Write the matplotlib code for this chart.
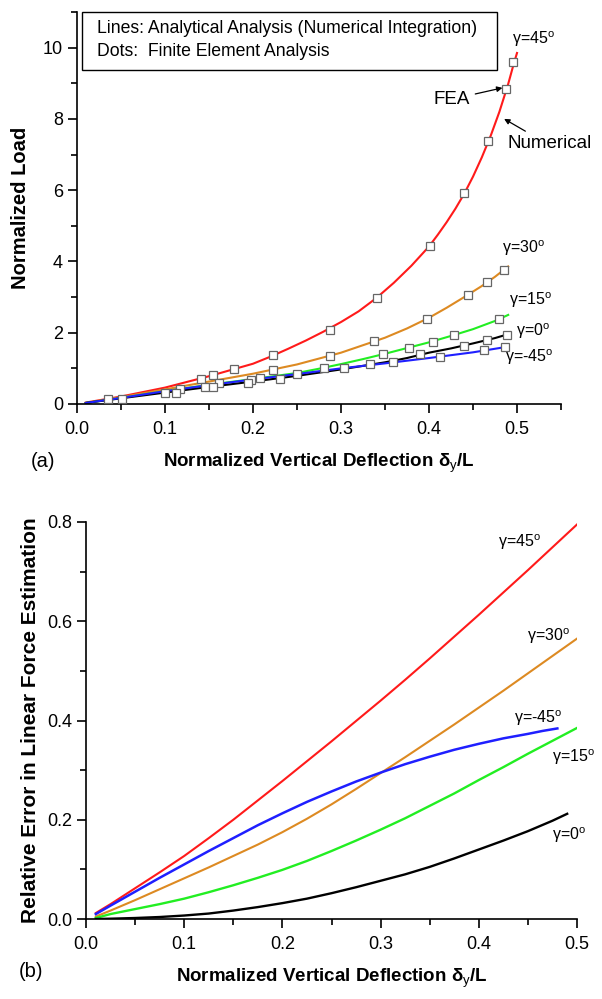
import matplotlib
matplotlib.use("Agg")
import matplotlib.pyplot as plt
from matplotlib.ticker import MultipleLocator
from matplotlib.patches import Rectangle

plt.rcParams['font.family'] = ['Liberation Sans', 'DejaVu Sans']
plt.rcParams['mathtext.fontset'] = 'custom'
plt.rcParams['mathtext.rm'] = 'Liberation Sans'
plt.rcParams['mathtext.it'] = 'Liberation Sans:italic'
plt.rcParams['mathtext.bf'] = 'Liberation Sans:bold'

# ---------------- Panel (a): normalized load (analytical lines) ----------------
x45 = [0.01, 0.05, 0.10, 0.15, 0.20, 0.22, 0.24, 0.26, 0.28, 0.30, 0.32, 0.34, 0.36, 0.38,
       0.40, 0.41, 0.42, 0.43, 0.44, 0.45, 0.46, 0.47, 0.48, 0.49, 0.496, 0.50]
y45 = [0.04, 0.21, 0.46, 0.78, 1.13, 1.33, 1.55, 1.78, 2.03, 2.30, 2.60, 2.97, 3.40, 3.88,
       4.42, 4.75, 5.10, 5.48, 5.90, 6.38, 6.92, 7.52, 8.20, 8.98, 9.52, 9.85]

x30 = [0.01, 0.05, 0.10, 0.15, 0.20, 0.25, 0.30, 0.35, 0.375, 0.40, 0.42, 0.44, 0.46, 0.475, 0.49]
y30 = [0.03, 0.19, 0.41, 0.63, 0.85, 1.11, 1.44, 1.86, 2.12, 2.42, 2.70, 3.00, 3.31, 3.57, 3.86]

x15 = [0.01, 0.05, 0.10, 0.15, 0.20, 0.25, 0.275, 0.30, 0.325, 0.35, 0.375, 0.40, 0.425, 0.45, 0.475, 0.49]
y15 = [0.03, 0.17, 0.36, 0.54, 0.70, 0.87, 0.99, 1.12, 1.26, 1.41, 1.57, 1.73, 1.91, 2.10, 2.33, 2.50]

x0 = [0.01, 0.05, 0.10, 0.15, 0.20, 0.25, 0.30, 0.35, 0.375, 0.40, 0.425, 0.45, 0.475, 0.49]
y0 = [0.03, 0.16, 0.32, 0.48, 0.63, 0.79, 0.97, 1.17, 1.29, 1.44, 1.56, 1.70, 1.85, 1.96]

xm45 = [0.01, 0.05, 0.10, 0.15, 0.20, 0.25, 0.30, 0.35, 0.40, 0.45, 0.485]
ym45 = [0.03, 0.17, 0.36, 0.53, 0.69, 0.84, 1.00, 1.14, 1.29, 1.45, 1.59]

# ---------------- Panel (a): FEA dots ----------------
fx45 = [0.141, 0.154, 0.178, 0.223, 0.287, 0.3406, 0.4007, 0.4395, 0.467, 0.488, 0.496]
fy45 = [0.71, 0.81, 0.98, 1.37, 2.08, 2.97, 4.42, 5.91, 7.38, 8.85, 9.59]
fx30 = [0.1617, 0.223, 0.287, 0.3375, 0.3975, 0.444, 0.466, 0.4857]
fy30 = [0.60, 0.95, 1.36, 1.76, 2.38, 3.06, 3.42, 3.77]
fx15 = [0.1166, 0.198, 0.250, 0.2806, 0.348, 0.377, 0.404, 0.428, 0.4799]
fy15 = [0.41, 0.67, 0.85, 1.02, 1.40, 1.58, 1.75, 1.94, 2.38]
fx0 = [0.0357, 0.0995, 0.145, 0.194, 0.231, 0.303, 0.390, 0.440, 0.4658, 0.4886]
fy0 = [0.13, 0.32, 0.47, 0.60, 0.70, 1.00, 1.39, 1.64, 1.79, 1.95]
fxm45 = [0.0516, 0.1128, 0.154, 0.2084, 0.333, 0.3595, 0.412, 0.4628, 0.4863]
fym45 = [0.14, 0.32, 0.47, 0.72, 1.11, 1.17, 1.33, 1.51, 1.59]

# ---------------- Panel (b): relative error ----------------
ex45 = [0.01, 0.025, 0.05, 0.075, 0.10, 0.125, 0.15, 0.175, 0.20, 0.225, 0.25, 0.275, 0.30,
        0.325, 0.35, 0.375, 0.40, 0.425, 0.45, 0.475, 0.50]
ey45 = [0.012, 0.030, 0.062, 0.094, 0.127, 0.163, 0.200, 0.239, 0.278, 0.318, 0.358, 0.399, 0.440,
        0.482, 0.525, 0.569, 0.613, 0.658, 0.703, 0.749, 0.795]
ex30 = [0.01, 0.025, 0.05, 0.075, 0.10, 0.125, 0.15, 0.175, 0.20, 0.225, 0.25, 0.275, 0.30,
        0.325, 0.35, 0.375, 0.40, 0.425, 0.45, 0.475, 0.50]
ey30 = [0.005, 0.017, 0.038, 0.060, 0.082, 0.104, 0.127, 0.150, 0.175, 0.202, 0.231, 0.262, 0.294,
        0.326, 0.359, 0.392, 0.426, 0.460, 0.495, 0.530, 0.565]
exm45 = [0.01, 0.025, 0.05, 0.075, 0.10, 0.125, 0.15, 0.175, 0.20, 0.225, 0.25, 0.275, 0.30,
         0.325, 0.35, 0.375, 0.40, 0.425, 0.45, 0.465, 0.48]
eym45 = [0.010, 0.027, 0.055, 0.083, 0.110, 0.137, 0.163, 0.189, 0.213, 0.236, 0.257, 0.277, 0.295,
         0.312, 0.327, 0.341, 0.353, 0.364, 0.373, 0.379, 0.384]
ex15 = [0.01, 0.025, 0.05, 0.075, 0.10, 0.125, 0.15, 0.175, 0.20, 0.225, 0.25, 0.275, 0.30,
        0.325, 0.35, 0.375, 0.40, 0.425, 0.45, 0.475, 0.50]
ey15 = [0.002, 0.010, 0.020, 0.030, 0.041, 0.054, 0.068, 0.083, 0.099, 0.117, 0.137, 0.158, 0.180,
        0.203, 0.228, 0.253, 0.280, 0.306, 0.333, 0.359, 0.385]
ex0 = [0.01, 0.025, 0.05, 0.075, 0.10, 0.125, 0.15, 0.175, 0.20, 0.225, 0.25, 0.275, 0.30,
       0.325, 0.35, 0.375, 0.40, 0.425, 0.45, 0.475, 0.49]
ey0 = [0.000, 0.0006, 0.002, 0.004, 0.007, 0.011, 0.017, 0.024, 0.032, 0.041, 0.052, 0.064, 0.077,
       0.090, 0.105, 0.122, 0.140, 0.158, 0.177, 0.198, 0.212]

RED = '#ff1a1a'
ORANGE = '#dd8a22'
GREEN = '#22ee22'
BLUE = '#1f1fff'
BLACK = '#000000'

fig = plt.figure(figsize=(6.02, 9.99), dpi=100)
ax1 = fig.add_axes([77/602, 1 - 404/999, 484/602, 392/999])
ax2 = fig.add_axes([86/602, 1 - 919/999, 491/602, 397/999])

def style(ax):
    for s in ['top', 'right']:
        ax.spines[s].set_visible(False)
    for s in ['left', 'bottom']:
        ax.spines[s].set_linewidth(1.2)
    ax.tick_params(which='major', direction='out', length=6.5, width=1.2, labelsize=13)
    ax.tick_params(which='minor', direction='out', length=4.3, width=1.2)
    ax.tick_params(axis='x', which='major', pad=6)
    ax.tick_params(axis='y', which='major', pad=3.5)

lw = 1.5
# panel a
ax1.plot(x45, y45, color=RED, lw=lw)
ax1.plot(x30, y30, color=ORANGE, lw=lw)
ax1.plot(x15, y15, color=GREEN, lw=lw)
ax1.plot(x0, y0, color=BLACK, lw=lw)
ax1.plot(xm45, ym45, color=BLUE, lw=lw)
mk = dict(linestyle='none', marker='s', markersize=5.8, markerfacecolor='white',
          markeredgecolor='#666666', markeredgewidth=0.9, zorder=5)
for fx, fy in [(fx45, fy45), (fx30, fy30), (fx15, fy15), (fx0, fy0), (fxm45, fym45)]:
    ax1.plot(fx, fy, **mk)

ax1.set_xlim(0, 0.55)
ax1.set_ylim(0, 11)
ax1.xaxis.set_minor_locator(MultipleLocator(0.05))
ax1.yaxis.set_minor_locator(MultipleLocator(1))
ax1.set_xticks([0.0, 0.1, 0.2, 0.3, 0.4, 0.5])
ax1.set_xticklabels(['0.0', '0.1', '0.2', '0.3', '0.4', '0.5'])
ax1.set_yticks([0, 2, 4, 6, 8, 10])
ax1.set_yticklabels(['0', '2', '4', '6', '8', '10'])
style(ax1)
ax1.set_ylabel('Normalized Load', fontsize=14.5, fontweight='bold', labelpad=9)
ax1.set_xlabel('Normalized Vertical Deflection δ$_{\\mathrm{y}}$/L', fontsize=13.5,
               fontweight='bold', labelpad=10)
ax1.text(-0.052, -1.6, '(a)', fontsize=14.5, ha='left', va='center')

gl = 11.5
ax1.text(0.494, 10.25, 'γ=45$^{\\mathrm{o}}$', fontsize=gl, ha='left', va='center')
ax1.text(0.483, 4.38, 'γ=30$^{\\mathrm{o}}$', fontsize=gl, ha='left', va='center')
ax1.text(0.491, 2.9, 'γ=15$^{\\mathrm{o}}$', fontsize=gl, ha='left', va='center')
ax1.text(0.499, 2.05, 'γ=0$^{\\mathrm{o}}$', fontsize=gl, ha='left', va='center')
ax1.text(0.486, 1.3, 'γ=-45$^{\\mathrm{o}}$', fontsize=gl, ha='left', va='center')

ax1.annotate('FEA', xy=(0.485, 8.88), xytext=(0.405, 8.55), fontsize=13.5,
             ha='left', va='center',
             arrowprops=dict(arrowstyle='-|>', color='black', lw=0.9,
                             shrinkA=2, shrinkB=1, mutation_scale=8))
ax1.annotate('Numerical', xy=(0.484, 8.02), xytext=(0.489, 7.3), fontsize=13.5,
             ha='left', va='center',
             arrowprops=dict(arrowstyle='-|>', color='black', lw=0.9,
                             shrinkA=2, shrinkB=1, mutation_scale=8,
                             relpos=(0.3, 1.0)))

# legend-like box
ax1.text(0.023, 10.55, 'Lines: Analytical Analysis (Numerical Integration)', fontsize=12.7,
         ha='left', va='center')
ax1.text(0.023, 9.88, 'Dots:  Finite Element Analysis', fontsize=12.7, ha='left', va='center')
ax1.add_patch(Rectangle((0.006, 9.36), 0.471, 1.64, fill=False, edgecolor='black', lw=1.0,
                        clip_on=False))

# panel b
ax2.plot(ex45, ey45, color=RED, lw=lw)
ax2.plot(ex30, ey30, color=ORANGE, lw=lw)
ax2.plot(exm45, eym45, color=BLUE, lw=lw + 0.3)
ax2.plot(ex15, ey15, color=GREEN, lw=lw + 0.2)
ax2.plot(ex0, ey0, color=BLACK, lw=lw + 0.2)
ax2.set_xlim(0, 0.5)
ax2.set_ylim(0, 0.8)
ax2.set_xticks([0.0, 0.1, 0.2, 0.3, 0.4, 0.5])
ax2.set_xticklabels(['0.0', '0.1', '0.2', '0.3', '0.4', '0.5'])
ax2.xaxis.set_minor_locator(MultipleLocator(0.05))
ax2.set_yticks([0.0, 0.2, 0.4, 0.6, 0.8])
ax2.set_yticklabels(['0.0', '0.2', '0.4', '0.6', '0.8'])
ax2.yaxis.set_minor_locator(MultipleLocator(0.1))
style(ax2)
ax2.set_ylabel('Relative Error in Linear Force Estimation', fontsize=15, fontweight='bold',
               labelpad=5)
ax2.set_xlabel('Normalized Vertical Deflection δ$_{\\mathrm{y}}$/L', fontsize=13.5,
               fontweight='bold', labelpad=10)
ax2.text(-0.0685, -0.105, '(b)', fontsize=14.5, ha='left', va='center')

ax2.text(0.420, 0.76, 'γ=45$^{\\mathrm{o}}$', fontsize=gl, ha='left', va='center')
ax2.text(0.449, 0.57, 'γ=30$^{\\mathrm{o}}$', fontsize=gl, ha='left', va='center')
ax2.text(0.436, 0.405, 'γ=-45$^{\\mathrm{o}}$', fontsize=gl, ha='left', va='center')
ax2.text(0.475, 0.326, 'γ=15$^{\\mathrm{o}}$', fontsize=gl, ha='left', va='center')
ax2.text(0.475, 0.168, 'γ=0$^{\\mathrm{o}}$', fontsize=gl, ha='left', va='center')

fig.savefig('out.png', dpi=100)
